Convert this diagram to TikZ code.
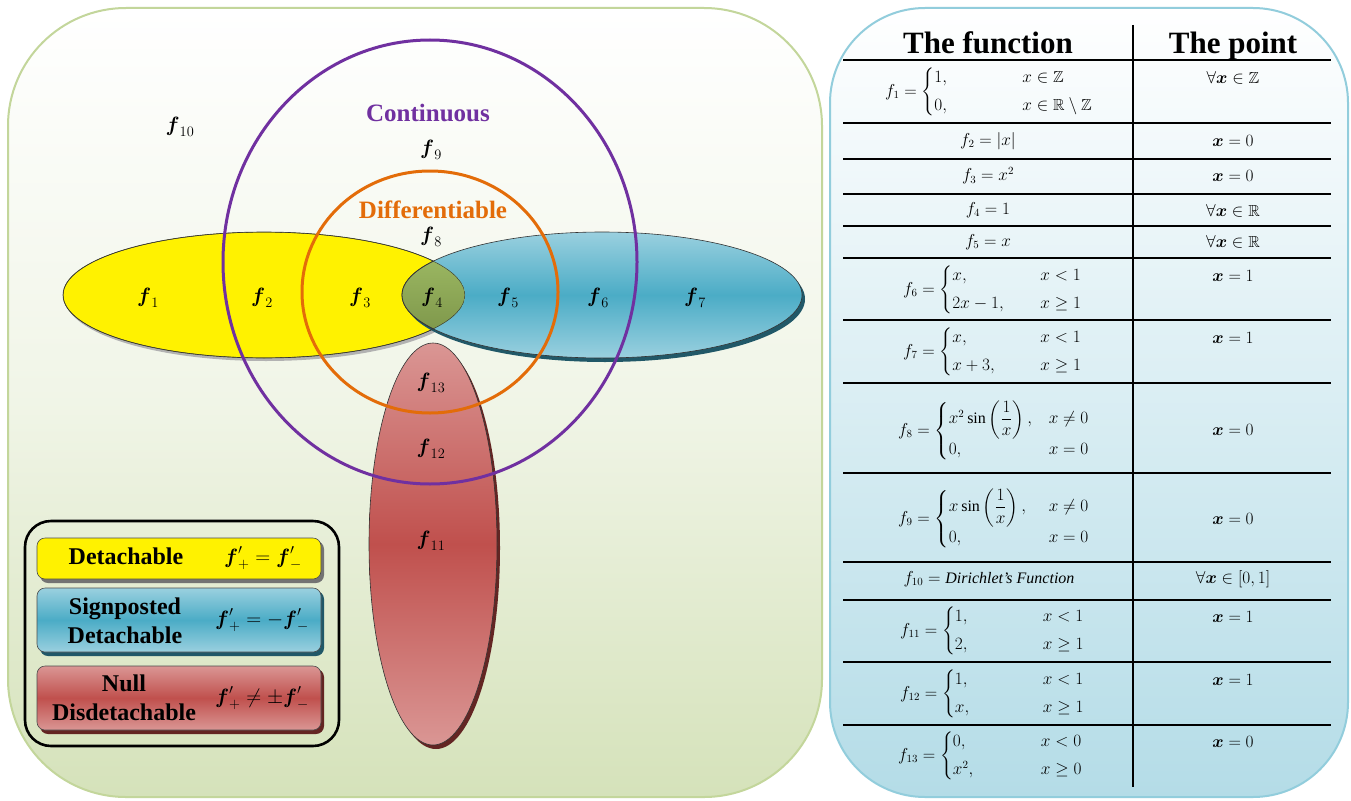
\documentclass[tikz,border=0pt]{standalone}
\usepackage{amsmath,amssymb}
\usepackage{fontspec}
\setmainfont{Liberation Serif}
\usetikzlibrary{calc}
\definecolor{leftbot}{HTML}{D5E2BA}
\definecolor{leftborder}{HTML}{C3D69B}
\definecolor{rightbot}{HTML}{B4DCE7}
\definecolor{rightborder}{HTML}{92CDDC}
\definecolor{bluemid}{HTML}{4BACC6}
\definecolor{blueedge}{HTML}{9AD0DF}
\definecolor{blueshadow}{HTML}{215868}
\definecolor{redmid}{HTML}{C0504D}
\definecolor{rededge}{HTML}{DA9694}
\definecolor{redshadow}{HTML}{632523}
\definecolor{lensgreen}{HTML}{9BBB59}
\definecolor{contpurple}{HTML}{7030A0}
\definecolor{difforange}{HTML}{E36C09}
\newcommand{\fv}[1]{$\boldsymbol{f}_{#1}$}
\newcommand{\cl}[1]{\makebox[72pt][l]{$#1$}}
\newcommand{\clw}[1]{\makebox[84pt][l]{$#1$}}
\begin{document}
\begin{tikzpicture}[x=1pt,y=-1pt,
  flabel/.style={inner sep=0pt,font=\fontsize{20}{22}\selectfont},
  setname/.style={inner sep=0pt,font=\fontsize{25}{28}\selectfont\bfseries},
  head/.style={inner sep=0pt,anchor=base,font=\fontsize{31}{34}\selectfont\bfseries},
  tmath/.style={inner sep=0pt,font=\fontsize{16}{19}\selectfont},
  rule/.style={line width=1.1pt,black},
  legtext/.style={inner sep=0pt,align=center,font=\fontsize{24}{29}\selectfont\bfseries},
  legmath/.style={inner sep=0pt,font=\fontsize{21}{24}\selectfont},
  legbox/.style={rounded corners=8pt,draw=black!70,line width=0.6pt},
  legshadow/.style={rounded corners=8pt,fill=black!55}
]
\useasboundingbox (0,0) rectangle (1351,800);
\fill[white] (0,0) rectangle (1351,800);

% ---------- left panel ----------
\path[rounded corners=118pt, top color=white, bottom color=leftbot, middle color=white!65!leftbot]
  (8,8) rectangle (822,797);
\draw[rounded corners=118pt, leftborder, line width=2pt] (8,8) rectangle (822,797);

% ---------- right panel ----------
\path[rounded corners=95pt, top color=white, bottom color=rightbot]
  (830,8) rectangle (1348,797);
\draw[rounded corners=95pt, rightborder, line width=2pt] (830,8) rectangle (1348,797);

% ---------- red vertical ellipse ----------
\fill[redshadow] (436,548) ellipse [x radius=64, y radius=201];
\path[top color=rededge, bottom color=rededge, middle color=redmid, draw=black!80, line width=0.6pt]
  (433,544) ellipse [x radius=64, y radius=201];

% ---------- yellow ellipse ----------
\fill[black!30] (266,298) ellipse [x radius=201, y radius=63];
\path[fill=yellow, draw=black!80, line width=0.6pt] (264,295) ellipse [x radius=201, y radius=63];

% ---------- blue ellipse ----------
\fill[blueshadow] (605,299) ellipse [x radius=200, y radius=63];
\path[top color=blueedge, bottom color=blueedge, middle color=bluemid, draw=black!80, line width=0.6pt]
  (602,295) ellipse [x radius=200, y radius=63];

% ---------- lens f4 ----------
\begin{scope}
  \clip (264,295) ellipse [x radius=201, y radius=63];
  \path[top color=lensgreen!90!white, bottom color=lensgreen!75!black] (602,295) ellipse [x radius=200, y radius=63];
  \draw[black!80, line width=0.8pt] (602,295) ellipse [x radius=200, y radius=63];
  \draw[black!80, line width=0.8pt] (264,295) ellipse [x radius=201, y radius=63];
\end{scope}

% ---------- circles ----------
\draw[contpurple, line width=3pt] (430,262) ellipse [x radius=207, y radius=222];
\draw[difforange, line width=3pt] (430,292) ellipse [x radius=128, y radius=121];

% ---------- set names ----------
\node[setname, text=contpurple] (cont) at (428,113) {Continuous};
\node[setname, text=difforange] (diff) at (433,210) {Differentiable};

% ---------- function labels ----------
\node[flabel] (f1) at (148,298) {\fv{1}};
\node[flabel] (f2) at (262,298) {\fv{2}};
\node[flabel] (f3) at (360,298) {\fv{3}};
\node[flabel] (f4) at (432,298) {\fv{4}};
\node[flabel] (f5) at (508,298) {\fv{5}};
\node[flabel] (f6) at (598,298) {\fv{6}};
\node[flabel] (f7) at (695,298) {\fv{7}};
\node[flabel] (f8) at (431,237) {\fv{8}};
\node[flabel] (f9) at (431,150) {\fv{9}};
\node[flabel] (f10) at (180,127) {\fv{10}};
\node[flabel] (f11) at (431,541) {\fv{11}};
\node[flabel] (f12) at (431,449) {\fv{12}};
\node[flabel] (f13) at (431,383) {\fv{13}};

% ---------- legend ----------
\draw[line width=2.6pt, rounded corners=26pt] (25,521) rectangle (339,746);
\fill[legshadow] (40,541) rectangle (324,583);
\path[legbox, fill=yellow] (37,538) rectangle (321,579);
\fill[legshadow, fill=blueshadow] (40,591) rectangle (324,656);
\path[legbox, top color=blueedge, bottom color=blueedge, middle color=bluemid] (37,588) rectangle (321,652);
\fill[legshadow, fill=redshadow] (40,669) rectangle (324,734);
\path[legbox, top color=rededge, bottom color=rededge, middle color=redmid] (37,666) rectangle (321,730);
\node[legtext] (l1) at (126,556) {Detachable};
\node[legmath] (m1) at (263,558) {$\boldsymbol{f}'_{+}=\boldsymbol{f}'_{-}$};
\node[legtext] (l2) at (125,621) {Signposted\\Detachable};
\node[legmath] (m2) at (262,620) {$\boldsymbol{f}'_{+}=-\boldsymbol{f}'_{-}$};
\node[legtext] (l3) at (124,698) {Null\\Disdetachable};
\node[legmath] (m3) at (262,698) {$\boldsymbol{f}'_{+}\neq\pm\boldsymbol{f}'_{-}$};

% ---------- table ----------
\node[head] (h1) at (988,53) {The function};
\node[head] (h2) at (1233,53) {The point};
\coordinate (vt) at (1133,25);
\coordinate (vb) at (1133,787);
\draw[rule] (vt) -- (vb);
\foreach \yy in {60,123,159,194,226,258,320,383,473,562,600,662,725}{
  \draw[rule] (843,\yy) -- (1331,\yy);
}
% row 1
\node[tmath, anchor=west] (t1) at (885,92) {$f_1=\begin{cases}\cl{1,} & x\in\mathbb{Z}\\[5pt] \cl{0,} & x\in\mathbb{R}\setminus\mathbb{Z}\end{cases}$};
\node[tmath] (p1) at (1233,78) {$\forall\boldsymbol{x}\in\mathbb{Z}$};
% row 2
\node[tmath] (t2) at (988,141) {$f_2=\lvert x\rvert$};
\node[tmath] (p2) at (1233,141) {$\boldsymbol{x}=0$};
% row 3
\node[tmath] (t3) at (988,176) {$f_3=x^2$};
\node[tmath] (p3) at (1233,176) {$\boldsymbol{x}=0$};
% row 4
\node[tmath] (t4) at (988,210) {$f_4=1$};
\node[tmath] (p4) at (1233,211) {$\forall\boldsymbol{x}\in\mathbb{R}$};
% row 5
\node[tmath] (t5) at (988,242) {$f_5=x$};
\node[tmath] (p5) at (1233,242) {$\forall\boldsymbol{x}\in\mathbb{R}$};
% row 6
\node[tmath, anchor=west] (t6) at (903,290) {$f_6=\begin{cases}\cl{x,} & x<1\\[5pt] \cl{2x-1,} & x\geq 1\end{cases}$};
\node[tmath] (p6) at (1233,276) {$\boldsymbol{x}=1$};
% row 7
\node[tmath, anchor=west] (t7) at (903,352) {$f_7=\begin{cases}\cl{x,} & x<1\\[5pt] \cl{x+3,} & x\geq 1\end{cases}$};
\node[tmath] (p7) at (1233,338) {$\boldsymbol{x}=1$};
% row 8
\node[tmath, anchor=west] (t8) at (898,431) {$f_8=\begin{cases}\clw{x^2\sin\left(\dfrac{1}{x}\right),} & x\neq 0\\[2pt] \clw{0,} & x=0\end{cases}$};
\node[tmath] (p8) at (1233,430) {$\boldsymbol{x}=0$};
% row 9
\node[tmath, anchor=west] (t9) at (898,519) {$f_9=\begin{cases}\clw{x\sin\left(\dfrac{1}{x}\right),} & x\neq 0\\[2pt] \clw{0,} & x=0\end{cases}$};
\node[tmath] (p9) at (1233,519) {$\boldsymbol{x}=0$};
% row 10
\node[tmath] (t10) at (989,579) {$f_{10}=\textit{Dirichlet's Function}$};
\node[tmath] (p10) at (1233,579) {$\forall\boldsymbol{x}\in\left[0,1\right]$};
% row 11
\node[tmath, anchor=west] (t11) at (900,631) {$f_{11}=\begin{cases}\cl{1,} & x<1\\[5pt] \cl{2,} & x\geq 1\end{cases}$};
\node[tmath] (p11) at (1233,617) {$\boldsymbol{x}=1$};
% row 12
\node[tmath, anchor=west] (t12) at (900,694) {$f_{12}=\begin{cases}\cl{1,} & x<1\\[5pt] \cl{x,} & x\geq 1\end{cases}$};
\node[tmath] (p12) at (1233,680) {$\boldsymbol{x}=1$};
% row 13
\node[tmath, anchor=west] (t13) at (898,756) {$f_{13}=\begin{cases}\cl{0,} & x<0\\[5pt] \cl{x^2,} & x\geq 0\end{cases}$};
\node[tmath] (p13) at (1233,742) {$\boldsymbol{x}=0$};
\end{tikzpicture}
\end{document}
